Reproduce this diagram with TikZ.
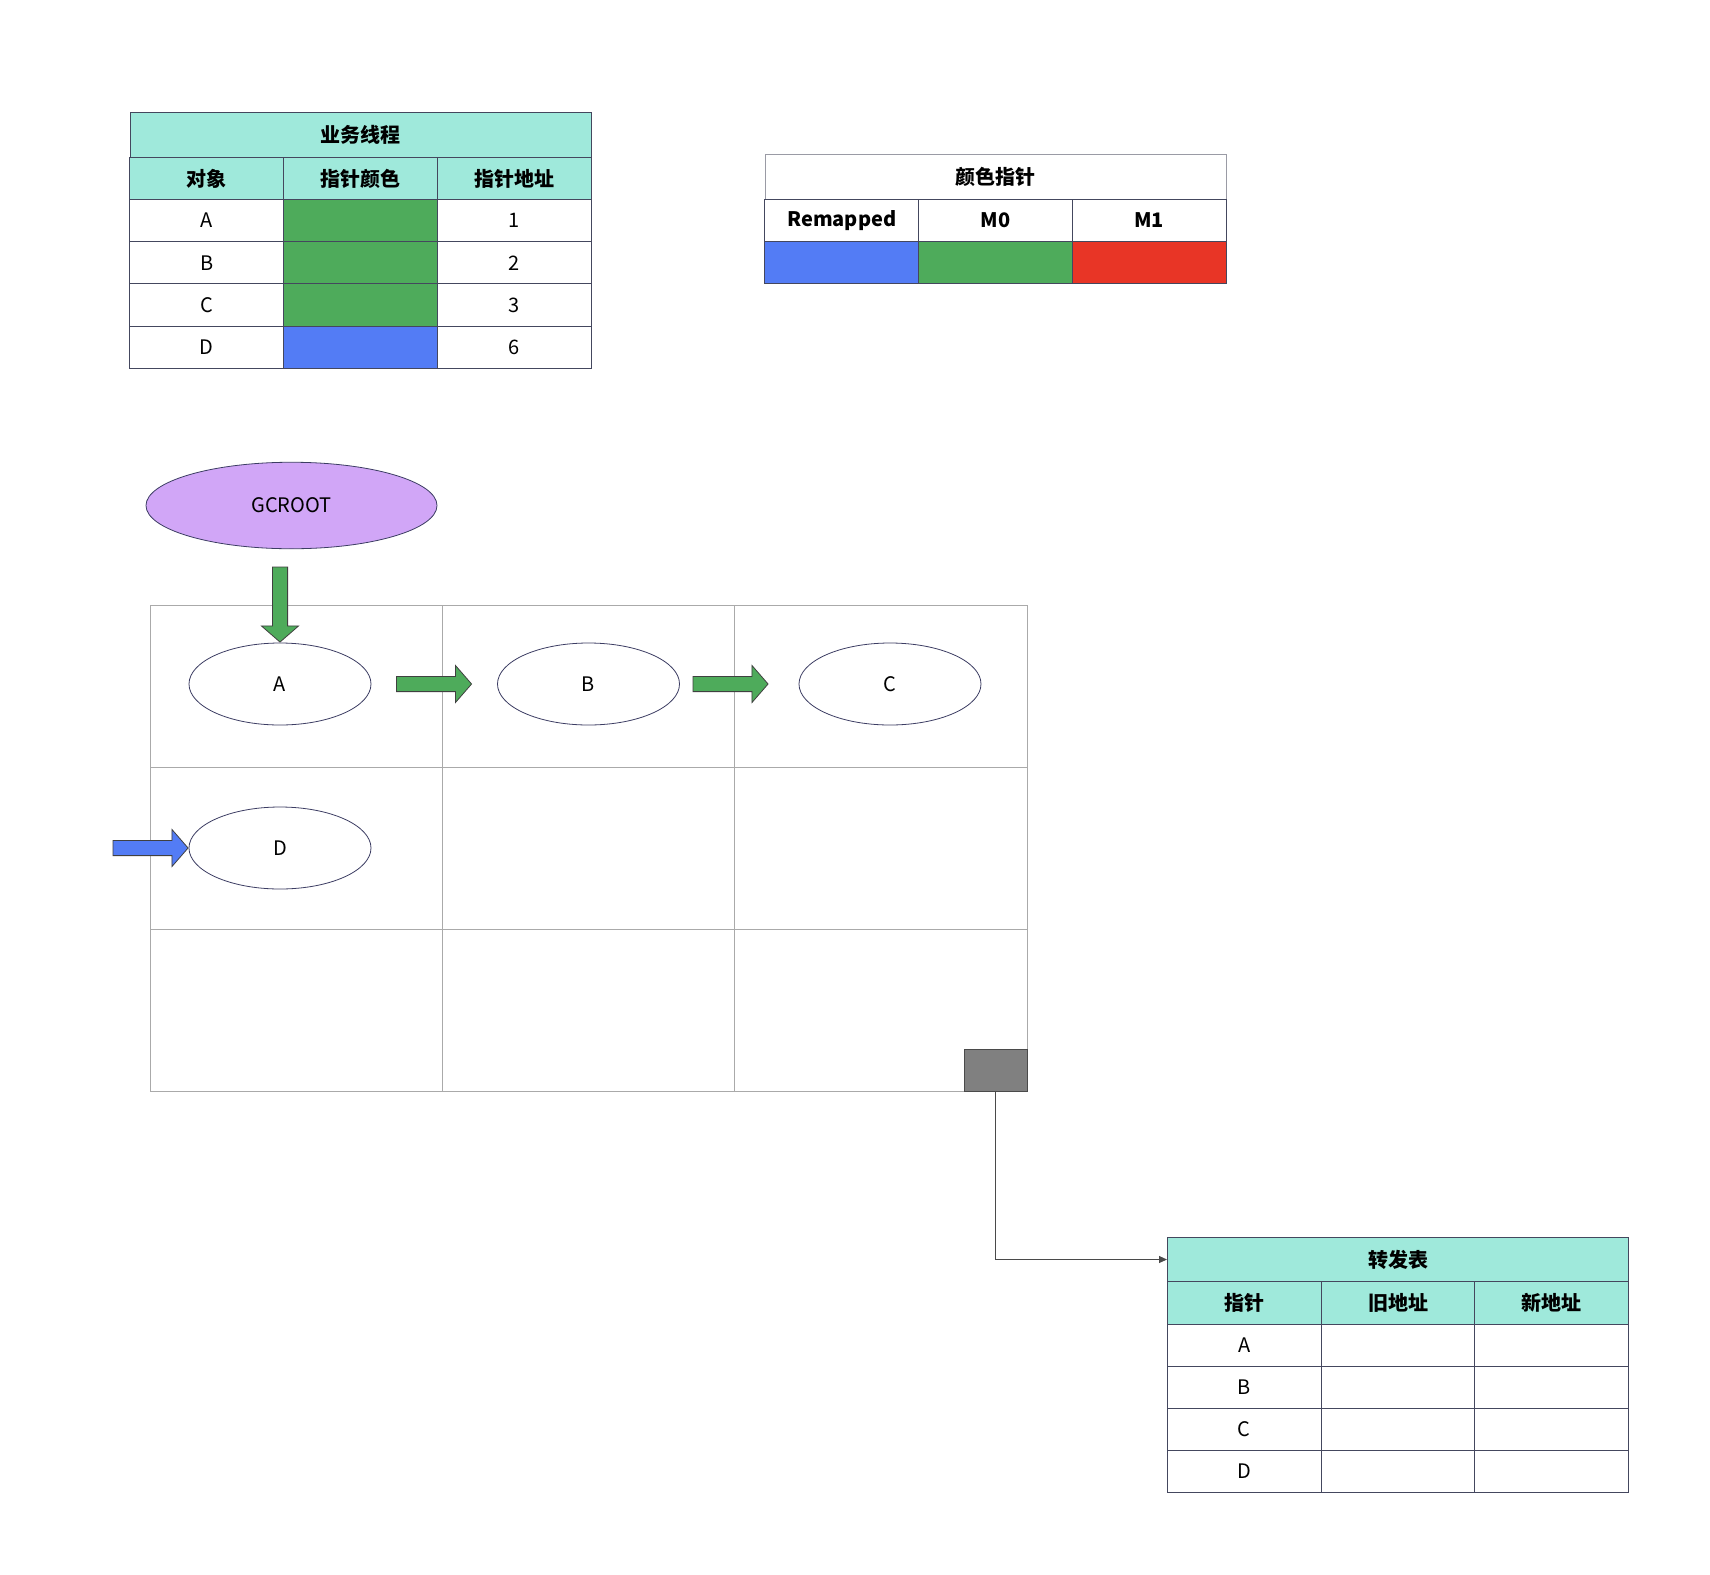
\documentclass[tikz,border=0pt]{standalone}
\usepackage{fontspec}
\setmainfont{Noto Sans CJK SC}
\usetikzlibrary{shapes,arrows.meta,positioning,calc}
\definecolor{headteal}{HTML}{9FE9DB}
\definecolor{tabline}{HTML}{44475E}
\definecolor{tabgray}{HTML}{9A9BA5}
\definecolor{ptrgreen}{HTML}{4EAB5B}
\definecolor{ptrblue}{HTML}{537CF5}
\definecolor{ptrred}{HTML}{E83526}
\definecolor{rootpurple}{HTML}{D1A6F7}
\definecolor{gridgray}{HTML}{AAAAAA}
\definecolor{objline}{HTML}{3C3D63}
\definecolor{boxgray}{HTML}{808080}
\definecolor{linkgray}{HTML}{4A4A4A}
\newcommand{\tabfont}{\fontsize{20}{24}\selectfont}
\tikzset{
	cell/.style={draw=tabline, line width=1pt, minimum width=153.7pt, minimum height=42.2pt, inner sep=0pt, font=\tabfont},
	headcell/.style={cell, fill=headteal, font=\tabfont\bfseries},
	titlecell/.style={cell, minimum width=461pt, minimum height=45pt, font=\tabfont\bfseries},
	obj/.style={ellipse, draw=objline, fill=white, line width=0.8pt, minimum width=182pt, minimum height=82pt, inner sep=0pt, font=\tabfont},
	ptrarrow/.style={single arrow, draw=black!75, line width=0.8pt, minimum height=75pt, minimum width=0pt, inner xsep=0pt, inner ysep=7.2pt, single arrow head extend=11pt, single arrow tip angle=98},
	heapgrid/.style={draw=gridgray, line width=1pt},
	link/.style={-{Triangle[width=7pt,length=8pt]}, draw=linkgray, line width=1pt}
}

\begin{document}
\begin{tikzpicture}[x=1pt,y=-1pt]
	\path[use as bounding box, fill=white] (0,0) rectangle (1710,1574);
	
	%%Table: business thread
	\node[titlecell, fill=headteal] (bizt) at (360.5,135) {业务线程};
	\node[headcell] (bizh1) at (206.8,178.5) {对象};
	\node[headcell] (bizh2) at (360.5,178.5) {指针颜色};
	\node[headcell] (bizh3) at (514.2,178.5) {指针地址};
	
	\node[cell] (biza) at (206.8,220.6) {A};
	\node[cell, fill=ptrgreen] (bizac) at (360.5,220.6) {};
	\node[cell] (bizaa) at (514.2,220.6) {1};
	
	\node[cell] (bizb) at (206.8,262.8) {B};
	\node[cell, fill=ptrgreen] (bizbc) at (360.5,262.8) {};
	\node[cell] (bizba) at (514.2,262.8) {2};
	
	\node[cell] (bizc) at (206.8,304.9) {C};
	\node[cell, fill=ptrgreen] (bizcc) at (360.5,304.9) {};
	\node[cell] (bizca) at (514.2,304.9) {3};
	
	\node[cell] (bizd) at (206.8,347.1) {D};
	\node[cell, fill=ptrblue] (bizdc) at (360.5,347.1) {};
	\node[cell] (bizda) at (514.2,347.1) {6};
	
	%%Table: pointer colours
	\node[titlecell, draw=tabgray] (colt) at (995.5,177) {颜色指针};
	\node[cell, font=\tabfont\bfseries] (colh1) at (841.8,220.5) {Remapped};
	\node[cell, font=\tabfont\bfseries] (colh2) at (995.5,220.5) {M0};
	\node[cell, font=\tabfont\bfseries] (colh3) at (1149.2,220.5) {M1};
	\node[cell, fill=ptrblue] (colremap) at (841.8,262.6) {};
	\node[cell, fill=ptrgreen] (colmzero) at (995.5,262.6) {};
	\node[cell, fill=ptrred] (colmone) at (1149.2,262.6) {};
	
	%%heap regions
	\node[heapgrid, minimum width=877pt, minimum height=486pt, inner sep=0pt] (heap) at (588.5,848) {};
	\draw[heapgrid] (442.5,605) -- (442.5,1091);
	\draw[heapgrid] (734.5,605) -- (734.5,1091);
	\draw[heapgrid] (150,767.5) -- (1027,767.5);
	\draw[heapgrid] (150,929.5) -- (1027,929.5);
	\node[draw=linkgray, fill=boxgray, minimum width=63pt, minimum height=42pt, inner sep=0pt, anchor=south east] (fwdbox) at (heap.south east) {};
	
	%%objects
	\node[obj, fill=rootpurple, minimum width=291pt, minimum height=86.5pt] (root) at (291.5,505.5) {GCROOT};
	\node[obj] (a) at (280,684) {A};
	\node[obj] (b) at (588.5,684) {B};
	\node[obj] (c) at (890,684) {C};
	\node[obj] (d) at (280,848) {D};
	
	%%pointers
	\node[ptrarrow, fill=ptrgreen, rotate=-90, anchor=tip] (rootptr) at (a.north) {};
	\node[ptrarrow, fill=ptrgreen, anchor=tip] (abptr) at ($(b.west)+(-25,0)$) {};
	\node[ptrarrow, fill=ptrgreen, anchor=tip] (bcptr) at ($(c.west)+(-30,0)$) {};
	\node[ptrarrow, fill=ptrblue, anchor=tip] (dptr) at (d.west) {};
	
	%%Table: forwarding
	\node[titlecell, fill=headteal] (fwdt) at (1398,1259.5) {转发表};
	\node[headcell] (fwdh1) at (1244.3,1303) {指针};
	\node[headcell] (fwdh2) at (1398,1303) {旧地址};
	\node[headcell] (fwdh3) at (1551.7,1303) {新地址};
	
	\node[cell] (fwda) at (1244.3,1345.1) {A};
	\node[cell] (fwdao) at (1398,1345.1) {};
	\node[cell] (fwdan) at (1551.7,1345.1) {};
	
	\node[cell] (fwdb) at (1244.3,1387.3) {B};
	\node[cell] (fwdbo) at (1398,1387.3) {};
	\node[cell] (fwdbn) at (1551.7,1387.3) {};
	
	\node[cell] (fwdc) at (1244.3,1429.4) {C};
	\node[cell] (fwdco) at (1398,1429.4) {};
	\node[cell] (fwdcn) at (1551.7,1429.4) {};
	
	\node[cell] (fwdd) at (1244.3,1471.6) {D};
	\node[cell] (fwddo) at (1398,1471.6) {};
	\node[cell] (fwddn) at (1551.7,1471.6) {};
	
	\draw[link] (fwdbox.south) |- (fwdt.west);
	
\end{tikzpicture}
\end{document}
